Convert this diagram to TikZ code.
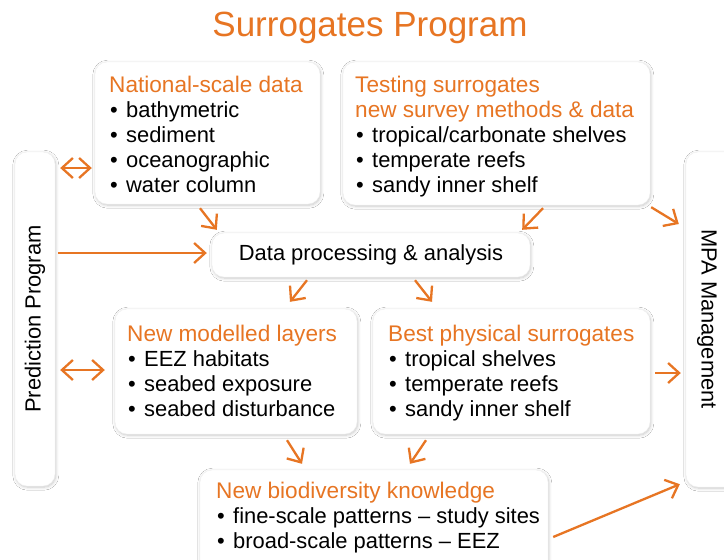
\documentclass[tikz,border=0pt]{standalone}
\usepackage{fontspec}
\setmainfont{Liberation Sans}
\usetikzlibrary{arrows.meta,shadows.blur}
\definecolor{orng}{RGB}{231,117,35}
\newcommand{\bul}{\makebox[16pt][l]{\textbullet}}
\begin{document}
\begin{tikzpicture}[x=1pt,y=-1pt,
  font=\fontsize{21.9}{25}\selectfont,
  box/.style={draw=black!6, line width=0.4pt, fill=white, rounded corners=12pt,
    blur shadow={shadow xshift=0.8pt, shadow yshift=-1.2pt, shadow blur steps=8,
      shadow blur radius=3pt, shadow blur extra rounding=2pt, shadow opacity=22},
    inner sep=0pt},
  arr/.style={draw=orng, line width=2.3pt, -{Straight Barb[length=11pt,width=20pt]}},
  darr/.style={draw=orng, line width=2.3pt,
    {Straight Barb[length=11pt,width=20pt]}-{Straight Barb[length=11pt,width=20pt]}},
  hdr/.style={text=orng, anchor=base west, inner sep=0pt, font=\fontsize{22.6}{25}\selectfont},
  itm/.style={anchor=base west, inner sep=0pt}]
\useasboundingbox (0,0) rectangle (724,560);
\fill[white] (0,0) rectangle (724,560);

% title
\node[text=orng, font=\fontsize{35}{40}\selectfont, anchor=base, inner sep=0pt] (title) at (370,36) {Surrogates Program};

% boxes
\node[box, minimum width=225pt, minimum height=142pt] (nat) at (207.5,133) {};
\node[box, minimum width=307pt, minimum height=143pt] (test) at (496.5,133.5) {};
\node[box, minimum width=40pt, minimum height=334pt] (pred) at (35,319) {};
\node[box, minimum width=74pt, minimum height=335pt] (mpa) at (723,319.5) {};
\node[box, minimum width=318pt, minimum height=44pt] (dp) at (371,255) {Data processing \& analysis};
\node[box, minimum width=242pt, minimum height=125pt] (nml) at (236,371.5) {};
\node[box, minimum width=277pt, minimum height=125pt] (bps) at (511.5,371.5) {};
\node[box, minimum width=348pt, minimum height=120pt] (nbk) at (374,530) {};

% rotated labels
\node[rotate=90, inner sep=0pt] (predT) at (pred.center) {Prediction Program};
\node[rotate=-90, inner sep=0pt] (mpaT) at (707,319) {MPA Management};

% National-scale data
\node[hdr] (natH) at (109,92) {National-scale data};
\node[itm] (nat1) at (110,117) {\bul bathymetric};
\node[itm] (nat2) at (110,142) {\bul sediment};
\node[itm] (nat3) at (110,167) {\bul oceanographic};
\node[itm] (nat4) at (110,192) {\bul water column};

% Testing surrogates
\node[hdr] (testH1) at (355,92) {Testing surrogates};
\node[hdr] (testH2) at (355,117) {new survey methods \& data};
\node[itm] (test1) at (356,142) {\bul tropical/carbonate shelves};
\node[itm] (test2) at (356,167) {\bul temperate reefs};
\node[itm] (test3) at (356,192) {\bul sandy inner shelf};

% New modelled layers
\node[hdr] (nmlH) at (127,341) {New modelled layers};
\node[itm] (nml1) at (128,366) {\bul EEZ habitats};
\node[itm] (nml2) at (128,391) {\bul seabed exposure};
\node[itm] (nml3) at (128,416) {\bul seabed disturbance};

% Best physical surrogates
\node[hdr] (bpsH) at (388,341) {Best physical surrogates};
\node[itm] (bps1) at (389,366) {\bul tropical shelves};
\node[itm] (bps2) at (389,391) {\bul temperate reefs};
\node[itm] (bps3) at (389,416) {\bul sandy inner shelf};

% New biodiversity knowledge
\node[hdr] (nbkH) at (216,498) {New biodiversity knowledge};
\node[itm] (nbk1) at (217,523) {\bul fine-scale patterns -- study sites};
\node[itm] (nbk2) at (217,548) {\bul broad-scale patterns -- EEZ};

% connectors
\draw[darr] ([shift={(5,-151)}]pred.east) -- ([shift={(-3,35)}]nat.west);
\draw[arr] ([shift={(3,-66)}]pred.east) -- ([shift={(-5,-2)}]dp.west);
\draw[darr] ([shift={(5,51)}]pred.east) -- ([shift={(-10,-1.5)}]nml.west);
\draw[arr] ([shift={(-7.5,4)}]nat.south) -- ([shift={(5,-3)}]dp.north west);
\draw[arr] ([shift={(46.5,3)}]test.south) -- ([shift={(-8,-3)}]dp.north east);
\draw[arr] ([shift={(1,2)}]test.south east) -- ([shift={(-7,-95.5)}]mpa.west);
\draw[arr] ([shift={(-64,3)}]dp.south) -- ([shift={(54,-7)}]nml.north);
\draw[arr] ([shift={(44,3)}]dp.south) -- ([shift={(-79.5,-7)}]bps.north);
\draw[arr] ([shift={(5,1.5)}]bps.east) -- ([shift={(-5,53.5)}]mpa.west);
\draw[arr] ([shift={(51,6)}]nml.south) -- ([shift={(-72,-6)}]nbk.north);
\draw[arr] ([shift={(-85.5,6)}]bps.south) -- ([shift={(36,-6)}]nbk.north);
\draw[arr] ([shift={(5,7)}]nbk.east) -- ([shift={(-6,-3)}]mpa.south west);
\end{tikzpicture}
\end{document}
